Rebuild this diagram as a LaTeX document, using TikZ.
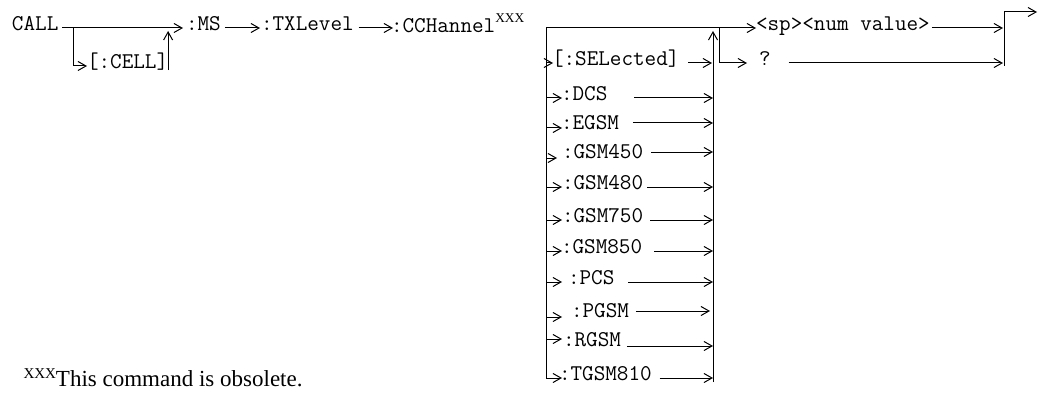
\documentclass[tikz,border=0pt]{standalone}
\usepackage{fontspec}
\usetikzlibrary{arrows.meta}
\newfontfamily\serifx{Liberation Serif}
\newcommand\monof{\ttfamily\fontsize{22.5}{26}\selectfont}
\newcommand\supf{\serifx\fontsize{13.4}{15}\selectfont}
\newcommand\fnf{\serifx\fontsize{23}{26}\selectfont}
\newcommand\fnsupf{\serifx\fontsize{15}{17}\selectfont}
\begin{document}
\begin{tikzpicture}[x=1pt,y=-1pt,line width=1pt,
  arr/.style={-{Straight Barb[length=8pt,width=9pt,line width=1pt]}},
  lbl/.style={anchor=mid west,inner sep=0pt,outer sep=0pt,font=\monof}]
\useasboundingbox (0,0) rectangle (1038,393);
% ---- head of the command
\node[lbl] (call) at (12,28) {CALL};
\node[lbl] (cell) at (87,66) {[:CELL]};
\node[lbl] (ms) at (186,28) {:MS};
\node[lbl] (txl) at (261,28) {:TXLevel};
\node[lbl] (cch) at (391,30) {:CCHannel\raisebox{10pt}{\supf XXX}};
\coordinate (b1) at (73,28);
\coordinate (msa) at (183,28);
\coordinate (cu) at (172,31);
\coordinate (txla) at (260,28);
\coordinate (ccha) at (393,28);
\draw[arr] ([xshift=4pt]call.mid east) -- (msa);
\draw[arr] (b1) |- (cell.mid west);
\draw[arr] (cell.south east) -- (cell.south east |- cu);
\draw[arr] ([xshift=4pt]ms.mid east) -- (txla);
\draw[arr] ([xshift=5pt]txl.mid east) -- (ccha);
% ---- list of choices
\coordinate (tl) at (546,28);
\coordinate (rct) at (713,31);
\coordinate (rcb) at (713,382);
\node[lbl] (sp) at (756,28) {<sp><num value>};
\draw[arr] (tl) -- (sp.mid west);
\draw[arr] (rcb) -- (rct);
\coordinate (qt) at (719,28);
\coordinate (qa) at (747,63);
\draw[arr] (qt) |- (qa);
\node[lbl] (q) at (759,63) {?};
\coordinate (r1) at (1003,28);
\coordinate (r2) at (1003,63);
\draw[arr] ([xshift=2pt]sp.mid east) -- (r1);
\draw[arr] ([xshift=18pt]q.mid east) -- (r2);
\coordinate (vb) at (1004,66);
\coordinate (fin) at (1037,12);
\draw[arr] (vb) |- (fin);
\foreach \n/\t/\xt/\yt/\yl/\xa/\g/\yr/\xr in {
  sel/{[:SELected]}/552/63/63/553/9/63/712,
  dcs/{:DCS}/561/98/98/562/27/98/713,
  egsm/{:EGSM}/561/127/128/562/14/123/713,
  g450/{:GSM450}/562/156/158/557/8/152/713,
  g480/{:GSM480}/562/187/187/562/4/187/713,
  g750/{:GSM750}/562/220/220/562/7/220/713,
  g850/{:GSM850}/561/251/251/562/12/251/713,
  pcs/{:PCS}/568/282/282/562/14/282/713,
  pgsm/{:PGSM}/571/315/317/562/7/311/710,
  rgsm/{:RGSM}/563/344/339/562/6/346/713,
  tgsm/{:TGSM810}/559/378/378/562/8/378/713}{
  \node[lbl] (\n) at (\xt,\yt) {\t};
  \coordinate (\n-l) at (546,\yl);
  \coordinate (\n-a) at (\xa,\yl);
  \coordinate (\n-r) at (\xr,\yr);
  \path ([xshift=\g pt]\n.mid east) coordinate (\n-s);
  \draw[arr] (\n-l) -- (\n-a);
  \draw[arr] (\n-s |- \n-r) -- (\n-r);
}
\draw (tl) -- (tgsm-l);
% ---- footnote
\node[anchor=base west,inner sep=0pt] (fn) at (23,386)
  {\raisebox{8pt}{\fnsupf XXX}\fnf This command is obsolete.};
\end{tikzpicture}
\end{document}
